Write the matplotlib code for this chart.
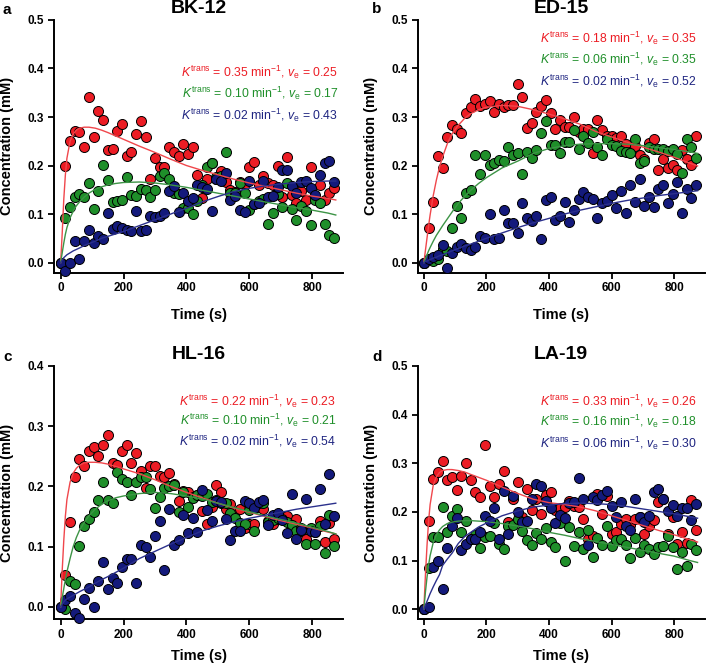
import matplotlib
matplotlib.use('Agg')
from matplotlib import pyplot as plt

plt.rcParams['font.family'] = ['Liberation Sans', 'DejaVu Sans']
plt.rcParams['mathtext.fontset'] = 'custom'
plt.rcParams['mathtext.rm'] = 'Liberation Sans'
plt.rcParams['mathtext.it'] = 'Liberation Sans:italic'

# sampling times of the measured points (s)
time_s = list(range(0, 871, 15))
fit_t = [0, 5, 10, 15, 20, 30, 40, 50, 60, 75, 90, 110, 130, 150, 175, 200, 250,
         300, 350, 400, 450, 500, 550, 600, 650, 700, 750, 800, 850, 875]

# ---- a: BK-12
a_red = [0.0, 0.199, 0.25, 0.272, 0.270, 0.239, 0.342, 0.258, 0.313, 0.294,
         0.231, 0.234, 0.272, 0.286, 0.22, 0.227, 0.264, 0.291, 0.258, 0.172,
         0.216, 0.196, 0.196, 0.239, 0.227, 0.22, 0.245, 0.224, 0.239, 0.18,
         0.134, 0.172, 0.205, 0.172, 0.188, 0.166, 0.15, 0.146, 0.165, 0.162,
         0.196, 0.207, 0.16, 0.178, 0.163, 0.16, 0.199, 0.135, 0.218, 0.14,
         0.123, 0.148, 0.129, 0.196, 0.135, 0.159, 0.129, 0.143, 0.153]
a_green = [0.0, 0.091, 0.115, 0.136, 0.141, 0.135, 0.164, 0.11, 0.147, 0.202,
           0.17, 0.125, 0.126, 0.129, 0.177, 0.139, 0.137, 0.152, 0.15, 0.135,
           0.15, 0.179, 0.184, 0.173, 0.144, 0.141, 0.113, 0.113, 0.1, 0.126,
           0.159, 0.196, 0.206, 0.177, 0.179, 0.228, 0.144, 0.144, 0.163, 0.144,
           0.109, 0.12, 0.126, 0.13, 0.08, 0.103, 0.141, 0.114, 0.163, 0.11,
           0.088, 0.117, 0.107, 0.077, 0.129, 0.122, 0.08, 0.056, 0.051]
a_blue = [0.0, -0.018, 0.0, 0.045, 0.007, 0.045, 0.067, 0.04, 0.055, 0.049,
          0.102, 0.07, 0.076, 0.072, 0.067, 0.066, 0.106, 0.066, 0.067, 0.095,
          0.093, 0.096, 0.102, 0.147, 0.157, 0.104, 0.143, 0.126, 0.133, 0.159,
          0.155, 0.151, 0.107, 0.172, 0.169, 0.184, 0.129, 0.137, 0.109, 0.104,
          0.169, 0.12, 0.122, 0.169, 0.136, 0.137, 0.155, 0.19, 0.19, 0.157,
          0.144, 0.166, 0.168, 0.154, 0.139, 0.18, 0.206, 0.209, 0.165]
a_red_fit = [0, 0.06, 0.13, 0.18, 0.215, 0.25, 0.265, 0.273, 0.277, 0.279, 0.279,
             0.277, 0.273, 0.268, 0.261, 0.254, 0.24, 0.227, 0.213, 0.2, 0.19,
             0.181, 0.172, 0.164, 0.157, 0.15, 0.143, 0.137, 0.132, 0.129]
a_green_fit = [0, 0.02, 0.04, 0.058, 0.072, 0.092, 0.106, 0.117, 0.125, 0.135, 0.143,
               0.151, 0.156, 0.16, 0.163, 0.165, 0.166, 0.164, 0.16, 0.155, 0.149,
               0.143, 0.137, 0.131, 0.125, 0.119, 0.113, 0.108, 0.102, 0.098]
a_blue_fit = [0, 0.005, 0.01, 0.013, 0.016, 0.02, 0.024, 0.027, 0.03, 0.035, 0.039,
              0.044, 0.05, 0.054, 0.059, 0.064, 0.076, 0.088, 0.1, 0.112, 0.125,
              0.136, 0.146, 0.153, 0.158, 0.162, 0.165, 0.167, 0.168, 0.168]

# ---- b: ED-15
b_red = [0.0, 0.072, 0.124, 0.219, 0.194, 0.258, 0.283, 0.276, 0.266, 0.308,
         0.32, 0.337, 0.323, 0.327, 0.332, 0.31, 0.327, 0.32, 0.325, 0.325,
         0.368, 0.342, 0.277, 0.288, 0.31, 0.323, 0.335, 0.308, 0.275, 0.294,
         0.28, 0.28, 0.30, 0.27, 0.276, 0.276, 0.225, 0.294, 0.273, 0.261,
         0.26, 0.257, 0.26, 0.245, 0.227, 0.24, 0.222, 0.213, 0.246, 0.254,
         0.191, 0.213, 0.194, 0.202, 0.191, 0.233, 0.213, 0.202, 0.261]
b_green = [0.0, 0.007, 0.004, 0.008, 0.027, 0.023, 0.071, 0.116, 0.091, 0.143,
           0.15, 0.221, 0.183, 0.221, 0.202, 0.205, 0.212, 0.209, 0.238, 0.222,
           0.225, 0.183, 0.228, 0.216, 0.231, 0.268, 0.291, 0.243, 0.243, 0.225,
           0.249, 0.249, 0.273, 0.235, 0.261, 0.247, 0.269, 0.238, 0.221, 0.254,
           0.242, 0.24, 0.229, 0.228, 0.225, 0.254, 0.206, 0.209, 0.239, 0.235,
           0.235, 0.234, 0.229, 0.234, 0.224, 0.184, 0.254, 0.238, 0.216]
b_blue = [0.0, 0.008, 0.012, 0.015, 0.036, -0.012, 0.02, 0.033, 0.038, 0.029,
          0.025, 0.033, 0.055, 0.05, 0.1, 0.048, 0.051, 0.109, 0.081, 0.081,
          0.06, 0.122, 0.092, 0.085, 0.096, 0.048, 0.129, 0.136, 0.088, 0.096,
          0.124, 0.084, 0.109, 0.13, 0.146, 0.136, 0.13, 0.091, 0.122, 0.126,
          0.14, 0.113, 0.147, 0.103, 0.159, 0.125, 0.173, 0.117, 0.135, 0.115,
          0.152, 0.159, 0.122, 0.141, 0.165, 0.103, 0.151, 0.133, 0.159]
b_red_fit = [0, 0.025, 0.05, 0.075, 0.098, 0.138, 0.17, 0.197, 0.218, 0.245, 0.265,
             0.283, 0.297, 0.307, 0.315, 0.32, 0.324, 0.322, 0.315, 0.306, 0.296,
             0.285, 0.27, 0.259, 0.248, 0.238, 0.228, 0.217, 0.205, 0.199]
b_green_fit = [0, 0.008, 0.016, 0.024, 0.031, 0.044, 0.056, 0.066, 0.076, 0.09, 0.104,
               0.122, 0.136, 0.149, 0.163, 0.175, 0.195, 0.209, 0.225, 0.235, 0.241,
               0.244, 0.245, 0.245, 0.244, 0.241, 0.237, 0.233, 0.228, 0.225]
b_blue_fit = [0, 0.002, 0.003, 0.005, 0.006, 0.009, 0.011, 0.014, 0.016, 0.02, 0.024,
              0.029, 0.034, 0.038, 0.044, 0.05, 0.061, 0.072, 0.082, 0.091, 0.1,
              0.108, 0.115, 0.122, 0.128, 0.133, 0.138, 0.142, 0.146, 0.148]

# ---- c: HL-16
c_red = [0.0, 0.052, 0.141, 0.216, 0.245, 0.233, 0.258, 0.265, 0.25, 0.268,
         0.285, 0.238, 0.235, 0.258, 0.268, 0.239, 0.255, 0.225, 0.198, 0.233,
         0.233, 0.217, 0.215, 0.222, 0.204, 0.176, 0.192, 0.19, 0.182, 0.186,
         0.159, 0.137, 0.166, 0.203, 0.19, 0.162, 0.17, 0.157, 0.163, 0.13,
         0.137, 0.138, 0.165, 0.162, 0.142, 0.137, 0.145, 0.148, 0.15, 0.137,
         0.145, 0.126, 0.112, 0.127, 0.124, 0.142, 0.107, 0.139, 0.112]
c_green = [0.0, -0.003, 0.043, 0.037, 0.101, 0.134, 0.146, 0.157, 0.177, 0.207,
           0.177, 0.173, 0.224, 0.213, 0.207, 0.186, 0.207, 0.216, 0.215, 0.196,
           0.164, 0.183, 0.197, 0.2, 0.202, 0.158, 0.19, 0.166, 0.181, 0.185,
           0.184, 0.188, 0.174, 0.177, 0.172, 0.173, 0.156, 0.148, 0.139, 0.137,
           0.161, 0.126, 0.172, 0.173, 0.14, 0.144, 0.147, 0.145, 0.14, 0.135,
           0.126, 0.13, 0.104, 0.131, 0.104, 0.134, 0.089, 0.153, 0.101]
c_blue = [0.0, 0.012, 0.018, -0.01, -0.018, 0.013, 0.031, 0.0, 0.043, 0.075,
          0.029, 0.048, 0.04, 0.066, 0.079, 0.079, 0.039, 0.102, 0.099, 0.082,
          0.118, 0.142, 0.061, 0.162, 0.102, 0.111, 0.152, 0.122, 0.148, 0.124,
          0.194, 0.161, 0.142, 0.176, 0.174, 0.145, 0.111, 0.125, 0.125, 0.176,
          0.173, 0.164, 0.174, 0.178, 0.135, 0.153, 0.156, 0.144, 0.122, 0.188,
          0.113, 0.127, 0.179, 0.125, 0.124, 0.196, 0.138, 0.22, 0.15]
c_red_fit = [0, 0.06, 0.11, 0.15, 0.178, 0.207, 0.222, 0.23, 0.235, 0.239, 0.24,
             0.24, 0.239, 0.237, 0.233, 0.229, 0.221, 0.211, 0.2, 0.19, 0.181,
             0.172, 0.164, 0.157, 0.15, 0.143, 0.137, 0.131, 0.124, 0.121]
c_green_fit = [0, 0.015, 0.03, 0.045, 0.058, 0.08, 0.1, 0.115, 0.127, 0.14, 0.151,
               0.162, 0.17, 0.176, 0.181, 0.184, 0.188, 0.19, 0.188, 0.184, 0.179,
               0.172, 0.165, 0.158, 0.151, 0.145, 0.139, 0.132, 0.125, 0.121]
c_blue_fit = [0, 0.004, 0.008, 0.011, 0.013, 0.016, 0.019, 0.022, 0.025, 0.029, 0.033,
              0.039, 0.045, 0.05, 0.057, 0.064, 0.08, 0.092, 0.104, 0.115, 0.126,
              0.134, 0.141, 0.147, 0.152, 0.157, 0.162, 0.166, 0.17, 0.172]

# ---- d: LA-19
d_red = [0.0, 0.182, 0.268, 0.282, 0.305, 0.266, 0.271, 0.244, 0.274, 0.3,
         0.266, 0.241, 0.23, 0.337, 0.253, 0.23, 0.258, 0.284, 0.179, 0.226,
         0.262, 0.189, 0.247, 0.204, 0.226, 0.196, 0.234, 0.241, 0.204, 0.208,
         0.21, 0.223, 0.212, 0.21, 0.186, 0.145, 0.151, 0.236, 0.195, 0.233,
         0.155, 0.159, 0.175, 0.186, 0.174, 0.185, 0.189, 0.155, 0.17, 0.184,
         0.221, 0.227, 0.155, 0.189, 0.133, 0.158, 0.137, 0.225, 0.163]
d_green = [0.0, 0.084, 0.148, 0.148, 0.211, 0.159, 0.192, 0.205, 0.159, 0.182,
           0.145, 0.152, 0.126, 0.149, 0.151, 0.178, 0.133, 0.123, 0.17, 0.174,
           0.185, 0.16, 0.142, 0.132, 0.156, 0.144, 0.167, 0.138, 0.127, 0.178,
           0.098, 0.168, 0.13, 0.158, 0.124, 0.162, 0.108, 0.146, 0.132, 0.17,
           0.13, 0.142, 0.145, 0.132, 0.106, 0.146, 0.118, 0.132, 0.124, 0.113,
           0.127, 0.13, 0.15, 0.128, 0.083, 0.118, 0.088, 0.133, 0.121]
d_blue = [0.0, 0.005, 0.087, 0.1, 0.042, 0.126, 0.17, 0.188, 0.121, 0.135,
          0.144, 0.145, 0.158, 0.192, 0.182, 0.207, 0.145, 0.242, 0.154, 0.232,
          0.2, 0.18, 0.181, 0.226, 0.257, 0.253, 0.222, 0.208, 0.178, 0.193,
          0.188, 0.218, 0.221, 0.27, 0.226, 0.131, 0.23, 0.225, 0.235, 0.242,
          0.213, 0.19, 0.221, 0.17, 0.162, 0.227, 0.19, 0.18, 0.191, 0.24,
          0.248, 0.227, 0.202, 0.214, 0.191, 0.208, 0.208, 0.184, 0.216]
d_red_fit = [0, 0.07, 0.13, 0.18, 0.215, 0.255, 0.272, 0.281, 0.285, 0.287, 0.287,
             0.285, 0.282, 0.277, 0.271, 0.265, 0.251, 0.238, 0.226, 0.219, 0.215,
             0.21, 0.202, 0.192, 0.182, 0.172, 0.162, 0.153, 0.143, 0.138]
d_green_fit = [0, 0.035, 0.065, 0.09, 0.11, 0.137, 0.153, 0.163, 0.17, 0.176, 0.179,
               0.181, 0.182, 0.182, 0.181, 0.18, 0.176, 0.171, 0.165, 0.158, 0.152,
               0.145, 0.139, 0.133, 0.127, 0.121, 0.115, 0.109, 0.1, 0.096]
d_blue_fit = [0, 0.008, 0.016, 0.024, 0.032, 0.046, 0.059, 0.071, 0.09, 0.103, 0.115,
              0.135, 0.149, 0.158, 0.169, 0.177, 0.192, 0.202, 0.21, 0.214, 0.217,
              0.218, 0.217, 0.215, 0.211, 0.206, 0.201, 0.196, 0.19, 0.187]

titles = ['BK-12', 'ED-15', 'HL-16', 'LA-19']
letters = ['a', 'b', 'c', 'd']
ktrans = [['0.35', '0.10', '0.02'], ['0.18', '0.06', '0.02'],
          ['0.22', '0.10', '0.02'], ['0.33', '0.16', '0.06']]
ve = [['0.25', '0.17', '0.43'], ['0.35', '0.35', '0.52'],
      ['0.23', '0.21', '0.54'], ['0.26', '0.18', '0.30']]
points = [[a_red, a_green, a_blue], [b_red, b_green, b_blue],
          [c_red, c_green, c_blue], [d_red, d_green, d_blue]]
fits = [[a_red_fit, a_green_fit, a_blue_fit], [b_red_fit, b_green_fit, b_blue_fit],
        [c_red_fit, c_green_fit, c_blue_fit], [d_red_fit, d_green_fit, d_blue_fit]]

dot_colors = ['#ec1c24', '#1f8f2a', '#141a7c']
line_colors = ['#f0474c', '#3d9446', '#2b308c']
text_colors = ['#ec1c24', '#1f8f2a', '#1e2480']

# layout (figure fractions) and axis ranges
boxes = [[0.0762, 0.5905, 0.4076, 0.3795], [0.589, 0.5905, 0.405, 0.3795],
         [0.0762, 0.0700, 0.4076, 0.3805], [0.589, 0.0700, 0.405, 0.3805]]
ymax = [0.5, 0.5, 0.4, 0.5]
xmin = [-21, -20, -21, -20]
text_y = [[0.393, 0.349, 0.304], [0.462, 0.418, 0.373],
          [0.342, 0.309, 0.274], [0.427, 0.386, 0.341]]
text_x = [883, 874, 877, 872]
letter_pos = [(7, 10), (377, 9), (8, 357), (377, 357)]
ylab_x = [-0.162, -0.163, -0.162, -0.163]
xlab_y = [-0.167, -0.167, -0.145, -0.145]

fig = plt.figure(figsize=(7.09, 6.66), dpi=100)

for k in range(4):
    ax = fig.add_axes(boxes[k])
    for s in range(3):
        ax.scatter(time_s, points[k][s], s=52, c=dot_colors[s],
                   edgecolors='black', linewidths=0.7, zorder=3, clip_on=False)
    for s in range(3):
        ax.plot(fit_t, fits[k][s], color=line_colors[s], lw=1.0, zorder=4)

    ax.set_xlim(xmin[k], 898)
    ax.set_ylim(-0.021, ymax[k])
    ax.set_xticks([0, 200, 400, 600, 800])
    yt = [i / 10 for i in range(int(round(ymax[k] * 10)) + 1)]
    ax.set_yticks(yt)
    ax.set_yticklabels(['%.1f' % v for v in yt])
    ax.spines['top'].set_visible(False)
    ax.spines['right'].set_visible(False)
    ax.spines['left'].set_linewidth(1.4)
    ax.spines['bottom'].set_linewidth(1.4)
    ax.tick_params(axis='both', direction='out', length=4, width=1.3,
                   labelsize=8.5, pad=3)
    for lab in ax.get_xticklabels() + ax.get_yticklabels():
        lab.set_fontweight('bold')

    ax.set_xlabel('Time (s)', fontsize=10.5, fontweight='bold', va='center')
    ax.set_ylabel('Concentration (mM)', fontsize=10.5, fontweight='bold',
                  va='center')
    ax.xaxis.set_label_coords(0.5, xlab_y[k])
    ax.yaxis.set_label_coords(ylab_x[k], 0.5)
    ax.text(0.5, 1.047, titles[k], transform=ax.transAxes, ha='center',
            va='center', fontsize=14, fontweight='bold')

    for s in range(3):
        txt = (r'$\it{K}^{\rm{trans}}$ = ' + ktrans[k][s] + r' min$^{-1}$, '
               + r'$\it{v}_{\rm{e}}$ = ' + ve[k][s])
        ax.text(text_x[k], text_y[k][s], txt, color=text_colors[s],
                ha='right', va='center', fontsize=8.8)

    fig.text(letter_pos[k][0] / 709, 1 - letter_pos[k][1] / 666, letters[k],
             fontsize=11, fontweight='bold', ha='center', va='center')

fig.savefig('out.png', dpi=100)
